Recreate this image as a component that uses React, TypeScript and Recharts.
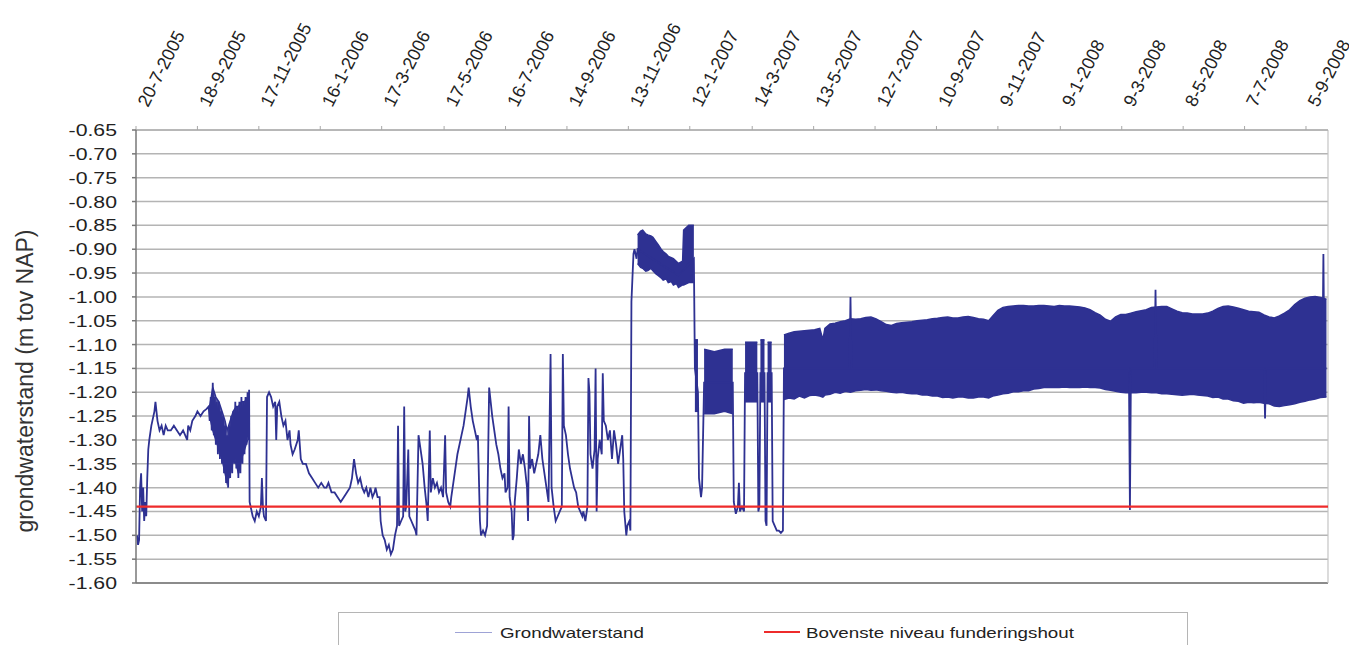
import React from 'react';
import { ComposedChart, Line, Area, XAxis, YAxis, CartesianGrid, ReferenceLine } from 'recharts';

// day numbers are counted from 20-7-2005
const START = Date.UTC(2005, 6, 20);
const dayOf = (s: string) => {
  const [d, m, y] = s.split('-').map(Number);
  return Math.round((Date.UTC(y, m - 1, d) - START) / 86400000);
};

const tickLabels = [
  '20-7-2005', '18-9-2005', '17-11-2005', '16-1-2006', '17-3-2006', '17-5-2006', '16-7-2006',
  '14-9-2006', '13-11-2006', '12-1-2007', '14-3-2007', '13-5-2007', '12-7-2007', '10-9-2007',
  '9-11-2007', '9-1-2008', '9-3-2008', '8-5-2008', '7-7-2008', '5-9-2008',
];
const tickDays = tickLabels.map(dayOf);
const X_MAX = 1164.5;

const yTicks = [-1.6, -1.55, -1.5, -1.45, -1.4, -1.35, -1.3, -1.25, -1.2, -1.15, -1.1, -1.05, -1.0, -0.95, -0.9, -0.85, -0.8, -0.75, -0.7, -0.65];

const funderingshout = -1.44;

// [day, level] - the measured groundwater level where it can be followed as a line
const grondwaterLijn: [number, number][] = [
  [1, -1.5], [2, -1.52], [3, -1.51], [4, -1.4], [5, -1.37], [6, -1.45], [7, -1.4], [8, -1.47], [9, -1.43], [10, -1.46],
  [11, -1.38], [12, -1.32], [13, -1.3], [15, -1.27], [16, -1.26], [18, -1.24], [19, -1.22], [21, -1.26], [23, -1.28],
  [25, -1.27], [27, -1.29], [29, -1.27], [31, -1.28], [34, -1.28], [37, -1.27], [40, -1.28], [43, -1.29], [46, -1.28],
  [48, -1.29], [50, -1.3], [51, -1.27], [53, -1.28], [55, -1.26], [58, -1.25], [60, -1.24], [63, -1.25], [66, -1.24],
  [69, -1.235],
  // autumn 2005: fast swings
  [71, -1.23], [72, -1.26], [73, -1.21], [74, -1.28], [75, -1.18], [76, -1.29], [77, -1.21], [78, -1.31], [79, -1.22],
  [80, -1.33], [81, -1.22], [82, -1.34], [83, -1.24], [84, -1.35], [85, -1.25], [86, -1.37], [87, -1.27], [88, -1.39],
  [89, -1.29], [90, -1.4], [91, -1.27], [92, -1.38], [93, -1.25], [94, -1.37], [95, -1.24], [96, -1.35], [97, -1.22],
  [98, -1.36], [99, -1.23], [100, -1.38], [101, -1.22], [102, -1.37], [103, -1.21], [104, -1.35], [105, -1.22],
  [106, -1.33], [107, -1.21], [108, -1.31], [109, -1.2], [110, -1.3], [110.5, -1.195],
  [111, -1.43], [112, -1.44], [114, -1.46], [116, -1.47],
  [118, -1.45], [120, -1.46], [122, -1.44], [123, -1.38], [124, -1.44], [125, -1.46], [127, -1.47], [128, -1.21],
  [130, -1.2], [132, -1.21], [134, -1.23], [136, -1.22], [137, -1.3], [138, -1.23], [140, -1.22], [142, -1.25],
  [144, -1.27], [146, -1.26], [148, -1.3], [150, -1.28], [151, -1.31], [153, -1.33], [155, -1.32], [158, -1.3],
  [159, -1.28], [161, -1.34], [163, -1.35], [166, -1.35], [169, -1.37], [172, -1.38], [175, -1.39], [178, -1.4],
  [181, -1.39], [184, -1.4], [186, -1.4], [188, -1.39], [191, -1.41], [194, -1.41], [197, -1.42], [200, -1.43],
  [203, -1.42], [206, -1.41], [209, -1.4], [211, -1.38], [213, -1.34], [215, -1.37], [217, -1.39], [219, -1.38],
  [221, -1.4], [223, -1.41], [225, -1.4], [227, -1.42], [229, -1.4], [231, -1.42], [233, -1.41], [234, -1.4],
  [236, -1.42], [238, -1.42], [239, -1.47], [241, -1.5], [243, -1.51], [245, -1.53], [247, -1.52], [249, -1.54],
  [251, -1.53], [253, -1.5], [255, -1.48], [256, -1.27], [257, -1.48], [259, -1.47], [261, -1.46], [262, -1.23],
  [263, -1.45], [264, -1.44], [266, -1.32], [267, -1.46], [269, -1.47], [271, -1.48], [273, -1.49], [274, -1.5],
  [276, -1.29], [278, -1.32], [280, -1.35], [282, -1.4], [284, -1.44], [285, -1.47], [287, -1.28], [288, -1.41],
  [290, -1.38], [292, -1.4], [294, -1.39], [296, -1.41], [298, -1.4], [300, -1.42], [302, -1.29], [303, -1.41],
  [305, -1.43], [307, -1.44], [308, -1.42], [310, -1.39], [312, -1.36], [314, -1.33], [316, -1.31], [318, -1.29],
  [320, -1.27], [322, -1.24], [324, -1.21], [325, -1.19], [327, -1.23], [329, -1.26], [331, -1.28], [333, -1.3],
  [334, -1.29], [336, -1.47], [337, -1.5], [339, -1.49], [341, -1.5], [343, -1.48], [345, -1.19], [346, -1.21],
  [348, -1.25], [350, -1.28], [352, -1.31], [354, -1.33], [356, -1.36], [358, -1.38], [360, -1.37], [361, -1.41],
  [363, -1.4], [364, -1.23], [365, -1.42], [367, -1.45], [368, -1.51], [369, -1.5], [370, -1.43], [372, -1.38],
  [374, -1.32], [376, -1.35], [378, -1.33], [380, -1.36], [382, -1.4], [383, -1.47], [384, -1.25], [385, -1.36],
  [387, -1.34], [389, -1.37], [391, -1.35], [393, -1.33], [395, -1.29], [397, -1.34], [399, -1.37], [401, -1.4],
  [403, -1.43], [405, -1.12], [406, -1.4], [408, -1.44], [410, -1.47], [412, -1.46], [414, -1.45], [416, -1.44],
  [417, -1.12], [418, -1.27], [420, -1.29], [422, -1.33], [424, -1.36], [426, -1.38], [428, -1.4], [430, -1.41],
  [432, -1.44], [434, -1.45], [436, -1.46], [437, -1.45], [439, -1.47], [441, -1.44], [442, -1.17], [443, -1.2],
  [444, -1.33], [446, -1.36], [448, -1.32], [449, -1.15], [450, -1.45], [451, -1.34], [453, -1.3], [455, -1.33],
  [456, -1.16], [457, -1.26], [459, -1.27], [461, -1.3], [463, -1.28], [465, -1.34], [467, -1.28], [469, -1.31],
  [471, -1.35], [473, -1.32], [475, -1.29], [476, -1.34], [477, -1.45], [479, -1.5], [480, -1.48], [482, -1.47],
  [483, -1.49], [484, -1.01], [485, -0.96], [486, -0.91], [487, -0.9], [489, -0.92], [490, -0.9],
  [530, -0.955], [545, -0.92], [546, -1.15], [549, -1.2], [550, -1.38], [552, -1.42], [553, -1.4], [555, -1.18], [583, -1.18],
  [584, -1.43], [586, -1.455], [588, -1.44], [589, -1.39], [590, -1.45], [592, -1.44], [594, -1.45], [595, -1.16],
  [607, -1.16], [608, -1.45], [609, -1.44], [610, -1.16], [614, -1.16], [615, -1.47], [616, -1.48], [617, -1.16],
  [621, -1.16], [622, -1.47], [624, -1.48], [626, -1.49], [628, -1.49], [630, -1.495], [632, -1.49], [633, -1.15],
  [697, -1.15], [698, -1.0], [699, -1.15], [970, -1.15], [971, -1.447], [972, -1.15], [995, -1.15], [996, -0.985],
  [997, -1.15], [1102, -1.15], [1103, -1.255], [1104, -1.15], [1159, -1.15], [1160, -0.91], [1161, -1.15], [1163, -1.15],
];

// [day, low, high] - periods where the readings swing so fast they fill a band
const bandNajaar2005: [number, number, number][] = [
  [72, -1.25, -1.23], [75, -1.28, -1.19], [78, -1.3, -1.21], [81, -1.32, -1.22], [84, -1.34, -1.24],
  [87, -1.37, -1.26], [89, -1.39, -1.28], [92, -1.37, -1.26], [95, -1.34, -1.24], [98, -1.35, -1.23],
  [100, -1.37, -1.23], [103, -1.34, -1.22], [106, -1.32, -1.22], [109, -1.3, -1.21],
];
const bandWinter2006: [number, number, number][] = [
  [490, -0.93, -0.87], [493, -0.938, -0.862], [495, -0.94, -0.86], [498, -0.946, -0.868], [500, -0.945, -0.87],
  [503, -0.94, -0.872], [505, -0.945, -0.875], [508, -0.952, -0.884], [510, -0.955, -0.89], [513, -0.96, -0.9],
  [515, -0.965, -0.905], [518, -0.962, -0.91], [520, -0.97, -0.915], [523, -0.968, -0.918], [525, -0.975, -0.92],
  [528, -0.972, -0.926], [530, -0.98, -0.93], [534, -0.975, -0.925], [535, -0.975, -0.86], [540, -0.97, -0.85],
  [545, -0.97, -0.85],
];
const blokJan2007: [number, number, number][] = [[546, -1.24, -1.09], [549, -1.24, -1.09]];
const blokFeb2007: [number, number, number][] = [[555, -1.245, -1.11], [565, -1.245, -1.115], [575, -1.24, -1.11], [583, -1.245, -1.11]];
const blokMrt2007: [number, number, number][] = [[595, -1.22, -1.095], [607, -1.22, -1.095]];
const blokApr2007a: [number, number, number][] = [[610, -1.22, -1.09], [614, -1.22, -1.09]];
const blokApr2007b: [number, number, number][] = [[617, -1.22, -1.095], [621, -1.22, -1.095]];
const bandVanaf2007: [number, number, number][] = [
  [633, -1.215, -1.08], [638, -1.212, -1.076], [643, -1.214, -1.073], [648, -1.208, -1.072], [653, -1.212, -1.071],
  [658, -1.207, -1.07], [663, -1.206, -1.069], [668, -1.208, -1.066], [671, -1.21, -1.09], [673, -1.206, -1.066],
  [678, -1.204, -1.057], [683, -1.2, -1.055], [688, -1.202, -1.052], [693, -1.198, -1.05], [698, -1.2, -1.046],
  [703, -1.197, -1.047], [708, -1.196, -1.046], [713, -1.194, -1.043], [718, -1.196, -1.042], [723, -1.195, -1.046],
  [728, -1.197, -1.052], [733, -1.198, -1.058], [738, -1.2, -1.06], [743, -1.201, -1.056], [748, -1.2, -1.054],
  [753, -1.202, -1.053], [758, -1.203, -1.052], [763, -1.203, -1.05], [768, -1.206, -1.049], [773, -1.206, -1.048],
  [778, -1.208, -1.046], [783, -1.208, -1.045], [788, -1.211, -1.043], [793, -1.21, -1.042], [798, -1.212, -1.044],
  [803, -1.21, -1.044], [808, -1.21, -1.042], [813, -1.212, -1.041], [818, -1.212, -1.043], [823, -1.21, -1.046],
  [828, -1.21, -1.047], [833, -1.212, -1.05], [837, -1.208, -1.04], [842, -1.206, -1.028], [847, -1.203, -1.022],
  [852, -1.202, -1.02], [857, -1.199, -1.019], [862, -1.199, -1.018], [867, -1.197, -1.018], [872, -1.197, -1.019],
  [877, -1.193, -1.019], [882, -1.192, -1.018], [887, -1.19, -1.018], [892, -1.19, -1.019], [897, -1.19, -1.02],
  [902, -1.19, -1.018], [907, -1.189, -1.019], [912, -1.19, -1.019], [917, -1.19, -1.02], [922, -1.19, -1.021],
  [927, -1.189, -1.023], [932, -1.19, -1.027], [937, -1.19, -1.033], [942, -1.191, -1.038], [947, -1.194, -1.047],
  [952, -1.196, -1.051], [957, -1.198, -1.042], [962, -1.2, -1.037], [967, -1.201, -1.037], [972, -1.201, -1.034],
  [977, -1.201, -1.031], [982, -1.2, -1.029], [987, -1.2, -1.027], [992, -1.201, -1.022], [997, -1.201, -1.021],
  [1002, -1.203, -1.02], [1007, -1.203, -1.02], [1012, -1.204, -1.025], [1017, -1.205, -1.03], [1022, -1.206, -1.033],
  [1027, -1.205, -1.034], [1032, -1.204, -1.036], [1037, -1.206, -1.036], [1042, -1.207, -1.036], [1047, -1.208, -1.034],
  [1052, -1.211, -1.03], [1057, -1.21, -1.024], [1062, -1.214, -1.02], [1067, -1.214, -1.019], [1072, -1.218, -1.021],
  [1077, -1.219, -1.024], [1082, -1.223, -1.027], [1087, -1.221, -1.03], [1092, -1.222, -1.031], [1097, -1.221, -1.032],
  [1102, -1.223, -1.038], [1107, -1.224, -1.042], [1112, -1.229, -1.044], [1117, -1.23, -1.04], [1122, -1.228, -1.034],
  [1127, -1.226, -1.027], [1132, -1.224, -1.016], [1137, -1.221, -1.008], [1142, -1.219, -1.003], [1147, -1.216, -1.0],
  [1152, -1.214, -0.999], [1157, -1.211, -1.001], [1163, -1.21, -1.005],
];

const BLUE = '#2e3192';
const FONT = '"Liberation Sans", Arial, sans-serif';

const lijnData = grondwaterLijn.map(([d, v]) => ({ d, v }));
const roodData = [{ d: 0, v: funderingshout }, { d: X_MAX, v: funderingshout }];
const bands = [bandNajaar2005, bandWinter2006, blokJan2007, blokFeb2007, blokMrt2007, blokApr2007a, blokApr2007b, bandVanaf2007]
  .map(seg => seg.map(([d, lo, hi]) => ({ d, r: [lo, hi] })));

const TopTick = (props: any) => {
  const { x, payload } = props;
  const label = tickLabels[tickDays.indexOf(payload.value)] ?? '';
  const ax = x + 12;
  const ay = 100;
  return (
    <text x={ax} y={ay} transform={`rotate(-63 ${ax} ${ay})`} fontSize={18} fill="#222" fontFamily={FONT}>
      {label}
    </text>
  );
};

const LeftTick = (props: any) => {
  const { y, payload } = props;
  return (
    <text x={0} y={0} transform={`translate(109 ${y + 6}) scale(1.25 1)`} textAnchor="end" fontSize={17} fill="#222" fontFamily={FONT}>
      {Number(payload.value).toFixed(2)}
    </text>
  );
};

const legendText: React.CSSProperties = {
  position: 'absolute', top: 616, fontSize: 15, lineHeight: '17px', color: '#222',
  transform: 'scaleX(1.25)', transformOrigin: 'left', whiteSpace: 'nowrap',
};

const App: React.FC = () => {
  return (
    <div style={{ position: 'relative', width: 1349, height: 637, fontFamily: FONT }}>
      <style>{'html, body { overflow: hidden; }'}</style>
      <ComposedChart width={1349} height={637} margin={{ top: 0, right: 29, bottom: 62, left: 0 }}>
        <CartesianGrid xAxisId="top" vertical={false} stroke="#b4b4b4" strokeWidth={1.5} />
        <XAxis
          xAxisId="top"
          orientation="top"
          type="number"
          dataKey="d"
          domain={[0, X_MAX]}
          ticks={tickDays}
          interval={0}
          height={122}
          tickSize={4}
          tick={<TopTick />}
          stroke="#a8a8a8"
          allowDataOverflow
        />
        <YAxis
          domain={[-1.6, -0.65]}
          ticks={yTicks}
          interval={0}
          width={128}
          tickSize={4}
          tick={<LeftTick />}
          stroke="#777"
          strokeWidth={1.5}
          allowDataOverflow
          label={{
            content: () => (
              <text x={0} y={0} transform="translate(25 373) rotate(-90)" textAnchor="middle" fontSize={23} fill="#333" fontFamily={FONT}>
                grondwaterstand (m tov NAP)
              </text>
            ),
          }}
        />
        <ReferenceLine xAxisId="top" y={-1.6} stroke="#777" strokeWidth={1.5} />
        <ReferenceLine xAxisId="top" x={X_MAX} stroke="#c4c4c4" strokeWidth={1.2} />
        {bands.map((seg, i) => (
          <Area
            key={i}
            xAxisId="top"
            data={seg}
            dataKey="r"
            type="linear"
            stroke={BLUE}
            strokeWidth={1.5}
            fill={BLUE}
            fillOpacity={i === 0 ? 0.8 : 1}
            dot={false}
            activeDot={false}
            isAnimationActive={false}
          />
        ))}
        <Line xAxisId="top" data={lijnData} dataKey="v" type="linear" stroke={BLUE} strokeWidth={1.8} dot={false} activeDot={false} isAnimationActive={false} />
        <Line xAxisId="top" data={roodData} dataKey="v" type="linear" stroke="#ee2b2b" strokeWidth={2.2} dot={false} activeDot={false} isAnimationActive={false} />
      </ComposedChart>

      <div style={{ position: 'absolute', left: 330, top: 604, width: 850, height: 40, border: '1px solid #b5b5b5', boxSizing: 'border-box' }} />
      <div style={{ position: 'absolute', left: 447, top: 624, width: 37, height: 1, background: '#9ea3d6' }} />
      <div style={{ ...legendText, left: 492 }}>Grondwaterstand</div>
      <div style={{ position: 'absolute', left: 756, top: 623, width: 36, height: 2, background: '#ee2b2b' }} />
      <div style={{ ...legendText, left: 798 }}>Bovenste niveau funderingshout</div>
    </div>
  );
};

export default App;
